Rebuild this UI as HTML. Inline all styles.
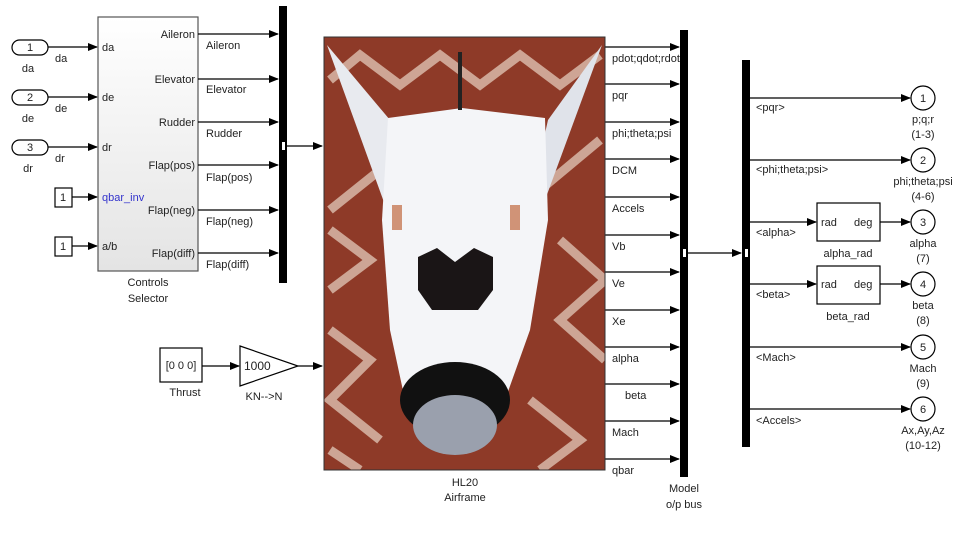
<!DOCTYPE html>
<html><head><meta charset="utf-8"><style>
body{margin:0;background:#fff;}
svg{display:block;font-family:"Liberation Sans",sans-serif;}
text{font-size:11px;fill:#222;}
</style></head><body>
<svg width="956" height="538" viewBox="0 0 956 538" xmlns="http://www.w3.org/2000/svg">
<defs>
<marker id="a" markerWidth="10" markerHeight="8" refX="9" refY="4" orient="auto" markerUnits="userSpaceOnUse"><path d="M0,0 L10,4 L0,8 z" fill="#000"/></marker>
<linearGradient id="g" x1="0" y1="0" x2="0" y2="1"><stop offset="0" stop-color="#fff"/><stop offset="1" stop-color="#e4e4e4"/></linearGradient>
<clipPath id="c"><rect x="324" y="37" width="281" height="433"/></clipPath>
</defs>
<g stroke="#000" stroke-width="1.2" fill="none">
<rect x="12" y="40" width="36" height="15" rx="7.5" fill="#fff"/>
<rect x="12" y="90" width="36" height="15" rx="7.5" fill="#fff"/>
<rect x="12" y="140" width="36" height="15" rx="7.5" fill="#fff"/>
<line x1="48" y1="47" x2="97" y2="47" marker-end="url(#a)"/>
<line x1="48" y1="97" x2="97" y2="97" marker-end="url(#a)"/>
<line x1="48" y1="147" x2="97" y2="147" marker-end="url(#a)"/>
<rect x="55" y="188" width="17" height="19" fill="#fff"/>
<rect x="55" y="237" width="17" height="19" fill="#fff"/>
<line x1="72" y1="197" x2="97" y2="197" marker-end="url(#a)"/>
<line x1="72" y1="246" x2="97" y2="246" marker-end="url(#a)"/>
<rect x="98" y="17" width="100" height="254" fill="url(#g)" stroke="#555"/>
<line x1="198" y1="34" x2="278" y2="34" marker-end="url(#a)"/>
<line x1="198" y1="79" x2="278" y2="79" marker-end="url(#a)"/>
<line x1="198" y1="122" x2="278" y2="122" marker-end="url(#a)"/>
<line x1="198" y1="165" x2="278" y2="165" marker-end="url(#a)"/>
<line x1="198" y1="210" x2="278" y2="210" marker-end="url(#a)"/>
<line x1="198" y1="253" x2="278" y2="253" marker-end="url(#a)"/>
<line x1="287" y1="146" x2="322" y2="146" marker-end="url(#a)"/>
<rect x="160" y="348" width="42" height="34" fill="#fff"/>
<line x1="202" y1="366" x2="239" y2="366" marker-end="url(#a)"/>
<path d="M240,346 L298,366 L240,386 z" fill="#fff"/>
<line x1="298" y1="366" x2="322" y2="366" marker-end="url(#a)"/>
<g>
<line x1="605" y1="47" x2="679" y2="47" marker-end="url(#a)"/>
<line x1="605" y1="84" x2="679" y2="84" marker-end="url(#a)"/>
<line x1="605" y1="122" x2="679" y2="122" marker-end="url(#a)"/>
<line x1="605" y1="159" x2="679" y2="159" marker-end="url(#a)"/>
<line x1="605" y1="197" x2="679" y2="197" marker-end="url(#a)"/>
<line x1="605" y1="235" x2="679" y2="235" marker-end="url(#a)"/>
<line x1="605" y1="272" x2="679" y2="272" marker-end="url(#a)"/>
<line x1="605" y1="310" x2="679" y2="310" marker-end="url(#a)"/>
<line x1="605" y1="347" x2="679" y2="347" marker-end="url(#a)"/>
<line x1="605" y1="384" x2="679" y2="384" marker-end="url(#a)"/>
<line x1="605" y1="421" x2="679" y2="421" marker-end="url(#a)"/>
<line x1="605" y1="459" x2="679" y2="459" marker-end="url(#a)"/>
</g>
<line x1="687" y1="253" x2="741" y2="253" marker-end="url(#a)"/>
<line x1="749" y1="98" x2="910" y2="98" marker-end="url(#a)"/>
<line x1="749" y1="160" x2="910" y2="160" marker-end="url(#a)"/>
<line x1="749" y1="222" x2="816" y2="222" marker-end="url(#a)"/>
<line x1="749" y1="284" x2="816" y2="284" marker-end="url(#a)"/>
<line x1="749" y1="347" x2="910" y2="347" marker-end="url(#a)"/>
<line x1="749" y1="409" x2="910" y2="409" marker-end="url(#a)"/>
<rect x="817" y="203" width="63" height="38" fill="#fff"/>
<rect x="817" y="266" width="63" height="38" fill="#fff"/>
<line x1="880" y1="222" x2="910" y2="222" marker-end="url(#a)"/>
<line x1="880" y1="284" x2="910" y2="284" marker-end="url(#a)"/>
<circle cx="923" cy="98" r="12" fill="#fff"/>
<circle cx="923" cy="160" r="12" fill="#fff"/>
<circle cx="923" cy="222" r="12" fill="#fff"/>
<circle cx="923" cy="284" r="12" fill="#fff"/>
<circle cx="923" cy="347" r="12" fill="#fff"/>
<circle cx="923" cy="409" r="12" fill="#fff"/>
</g>
<rect x="279" y="6" width="8" height="277" fill="#000"/>
<rect x="680" y="30" width="8" height="447" fill="#000"/>
<rect x="742" y="60" width="8" height="387" fill="#000"/>
<rect x="282" y="142" width="3" height="8" fill="#fff"/>
<rect x="683" y="249" width="3" height="8" fill="#fff"/>
<rect x="745" y="249" width="3" height="8" fill="#fff"/>
<g clip-path="url(#c)">
<rect x="324" y="37" width="281" height="433" fill="#8e3a28"/>
<g stroke="#d9b8a8" stroke-width="9" fill="none" opacity="0.85">
<path d="M330,80 L360,55 L400,85 L440,55 L480,85 L520,55 L560,85 L600,55"/>
<path d="M330,210 L380,170 L420,200"/>
<path d="M540,190 L600,140"/>
<path d="M330,290 L370,260 L330,230"/>
<path d="M560,240 L605,280 L560,320 L605,360"/>
<path d="M330,330 L370,360 L330,400 L380,440"/>
<path d="M530,400 L580,440 L540,470"/>
<path d="M330,450 L360,470"/>
</g>
<path d="M327,45 L385,205 L400,200 L390,120 Z" fill="#e8eaef"/>
<path d="M602,45 L545,200 L530,200 L548,120 Z" fill="#e0e3ea"/>
<path d="M388,118 L462,108 L545,118 L548,220 L530,330 L505,400 L405,400 L390,330 L382,220 Z" fill="#f4f5f8"/>
<path d="M418,257 L437,248 L455,262 L474,248 L493,257 L493,290 L478,310 L432,310 L418,290 Z" fill="#1a1516"/>
<ellipse cx="455" cy="400" rx="55" ry="38" fill="#111"/>
<ellipse cx="455" cy="425" rx="42" ry="30" fill="#9aa0ad"/>
<rect x="458" y="52" width="4" height="58" fill="#222"/>
<rect x="392" y="205" width="10" height="25" fill="#c06a40" opacity="0.7"/>
<rect x="510" y="205" width="10" height="25" fill="#c06a40" opacity="0.7"/>
</g>
<rect x="324" y="37" width="281" height="433" fill="none" stroke="#333" stroke-width="1"/>
<g text-anchor="middle">
<text x="30" y="51">1</text><text x="30" y="101">2</text><text x="30" y="151">3</text>
<text x="28" y="72">da</text><text x="28" y="122">de</text><text x="28" y="172">dr</text>
<text x="63" y="201">1</text><text x="63" y="250">1</text>
<text x="148" y="286">Controls</text><text x="148" y="302">Selector</text>
<text x="181" y="369">[0 0 0]</text><text x="185" y="396">Thrust</text>
<text x="264" y="400">KN--&gt;N</text>
<text x="465" y="486">HL20</text><text x="465" y="501">Airframe</text>
<text x="684" y="492">Model</text><text x="684" y="508">o/p bus</text>
<text x="848" y="257">alpha_rad</text><text x="848" y="320">beta_rad</text>
<text x="923" y="102">1</text><text x="923" y="164">2</text><text x="923" y="226">3</text>
<text x="923" y="288">4</text><text x="923" y="351">5</text><text x="923" y="413">6</text>
<text x="923" y="123">p;q;r</text><text x="923" y="138">(1-3)</text>
<text x="923" y="185">phi;theta;psi</text><text x="923" y="200">(4-6)</text>
<text x="923" y="247">alpha</text><text x="923" y="262">(7)</text>
<text x="923" y="309">beta</text><text x="923" y="324">(8)</text>
<text x="923" y="372">Mach</text><text x="923" y="387">(9)</text>
<text x="923" y="434">Ax,Ay,Az</text><text x="923" y="449">(10-12)</text>
</g>
<text x="55" y="62">da</text><text x="55" y="112">de</text><text x="55" y="162">dr</text>
<text x="102" y="51">da</text><text x="102" y="101">de</text><text x="102" y="151">dr</text>
<text x="102" y="201" style="fill:#3333cc">qbar_inv</text><text x="102" y="250">a/b</text>
<g text-anchor="end">
<text x="195" y="38">Aileron</text><text x="195" y="83">Elevator</text><text x="195" y="126">Rudder</text>
<text x="195" y="169">Flap(pos)</text><text x="195" y="214">Flap(neg)</text><text x="195" y="257">Flap(diff)</text>
</g>
<text x="206" y="49">Aileron</text><text x="206" y="93">Elevator</text><text x="206" y="137">Rudder</text>
<text x="206" y="181">Flap(pos)</text><text x="206" y="225">Flap(neg)</text><text x="206" y="268">Flap(diff)</text>
<text x="244" y="370" style="font-size:12px">1000</text>
<g style="font-size:10.5px">
<text x="612" y="62">pdot;qdot;rdot</text><text x="612" y="99">pqr</text><text x="612" y="137">phi;theta;psi</text>
<text x="612" y="174">DCM</text><text x="612" y="212">Accels</text><text x="612" y="250">Vb</text>
<text x="612" y="287">Ve</text><text x="612" y="325">Xe</text><text x="612" y="362">alpha</text>
<text x="625" y="399">beta</text><text x="612" y="436">Mach</text><text x="612" y="474">qbar</text>
<text x="756" y="111">&lt;pqr&gt;</text><text x="756" y="173">&lt;phi;theta;psi&gt;</text>
<text x="756" y="236">&lt;alpha&gt;</text><text x="756" y="298">&lt;beta&gt;</text>
<text x="756" y="361">&lt;Mach&gt;</text><text x="756" y="424">&lt;Accels&gt;</text>
</g>
<text x="821" y="226">rad</text><text x="854" y="226">deg</text>
<text x="821" y="288">rad</text><text x="854" y="288">deg</text>
</svg>
</body></html>
